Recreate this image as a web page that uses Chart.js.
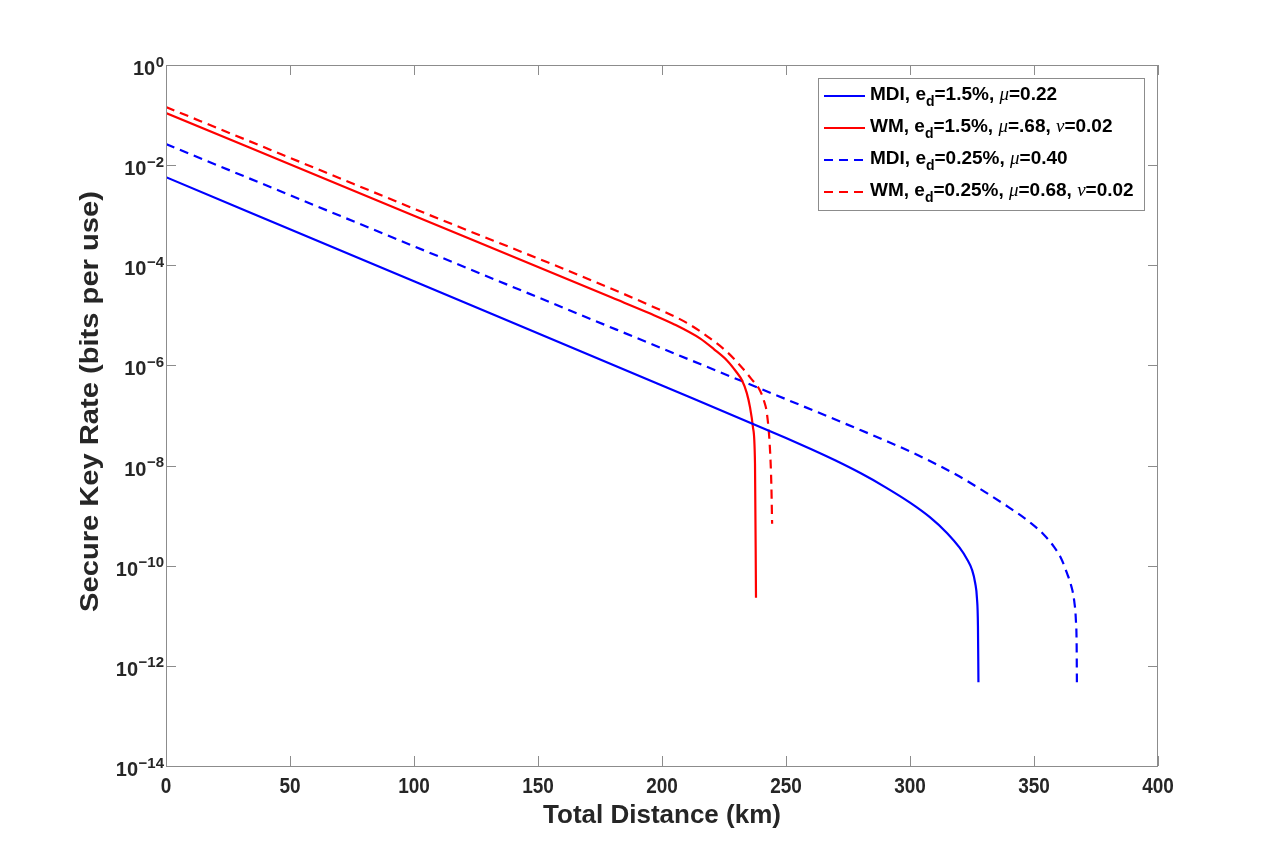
<!DOCTYPE html>
<html><head><meta charset="utf-8">
<script src="https://cdn.jsdelivr.net/npm/chart.js@4.4.1/dist/chart.umd.min.js"></script>
<style>html,body{margin:0;padding:0;background:#fff}</style>
</head><body>
<canvas id="c" width="1280" height="861"></canvas>
<script>
// ---- data ----
const xTicks = [0, 50, 100, 150, 200, 250, 300, 350, 400];
const yTickExponents = [0, -2, -4, -6, -8, -10, -12, -14];
const xTitle = 'Total Distance (km)';
const yTitle = 'Secure Key Rate (bits per use)';
const seriesLabels = [
  'MDI, e_d=1.5%, μ=0.22',
  'WM, e_d=1.5%, μ=.68, ν=0.02',
  'MDI, e_d=0.25%, μ=0.40',
  'WM, e_d=0.25%, μ=0.68, ν=0.02'
];
const mdi15Dist = [0, 100, 200, 250, 260, 270, 280, 290, 300, 308, 315, 320, 323, 325, 326.3, 327, 327.4, 327.6];
const mdi15Rate = [5.75e-3, 4.79e-5, 3.98e-7, 3.55e-8, 2.14e-8, 1.26e-8, 7.08e-9, 3.72e-9, 1.82e-9, 9.33e-10, 4.47e-10, 2.29e-10, 1.35e-10, 8.32e-11, 4.47e-11, 2.24e-11, 6.3e-12, 4.7e-13];
const wm15Dist = [0, 100, 180, 195, 205, 215.3, 221, 226.2, 230, 232.3, 234.2, 235.5, 236.7, 237.5, 237.9];
const wm15Rate = [0.11, 9.8e-4, 2.24e-5, 1.1e-5, 6.6e-6, 3.47e-6, 2.1e-6, 1.26e-6, 7.4e-7, 5.0e-7, 2.8e-7, 1.45e-7, 5.75e-8, 1.1e-8, 2.3e-11];
const mdi025Dist = [0, 100, 200, 280, 290, 300, 310, 320, 330, 340, 348, 354, 358, 361, 363.3, 365, 366.2, 366.9, 367.2, 367.3];
const mdi025Rate = [2.63e-2, 2.40e-4, 2.19e-6, 5.13e-8, 3.16e-8, 1.91e-8, 1.10e-8, 6.03e-9, 3.02e-9, 1.45e-9, 7.59e-10, 4.17e-10, 2.40e-10, 1.38e-10, 7.08e-11, 3.98e-11, 2.0e-11, 7.94e-12, 2.51e-12, 4.7e-13];
const wm025Dist = [0, 100, 195.2, 210, 219.4, 226, 231.5, 236, 239.5, 241.2, 242.3, 243.5, 244.1, 244.4];
const wm025Rate = [0.145, 1.35e-3, 1.58e-5, 7.08e-6, 3.47e-6, 1.9e-6, 1.0e-6, 5.4e-7, 3.16e-7, 1.9e-7, 1.1e-7, 2.29e-8, 4.0e-9, 6.9e-10];

// ---- styling ----
const BLUE = '#0000ff', RED = '#ff0000';
const AXIS = '#8c8c8c', TEXT = '#262626';
const FONT = '"Liberation Sans", Arial, Helvetica, sans-serif';
const GREEK = '"Liberation Serif", "DejaVu Serif", serif';

function pts(xs, ys) { return xs.map((x, i) => ({ x: x, y: ys[i] })); }

const datasets = [
  { label: seriesLabels[0], data: pts(mdi15Dist, mdi15Rate), borderColor: BLUE, borderWidth: 2.2, borderDash: [] },
  { label: seriesLabels[1], data: pts(wm15Dist, wm15Rate), borderColor: RED, borderWidth: 2.2, borderDash: [] },
  { label: seriesLabels[2], data: pts(mdi025Dist, mdi025Rate), borderColor: BLUE, borderWidth: 2.2, borderDash: [9, 6] },
  { label: seriesLabels[3], data: pts(wm025Dist, wm025Rate), borderColor: RED, borderWidth: 2.2, borderDash: [9, 6] }
].map(d => Object.assign(d, { pointRadius: 0, fill: false, cubicInterpolationMode: 'monotone', showLine: true }));

// draw a label with "_x" subscripts and italic greek letters
function richSegments(str) {
  const segs = [];
  for (let i = 0; i < str.length; i++) {
    const ch = str[i];
    if (ch === '_') { segs.push({ t: str[i + 1], kind: 'sub' }); i++; }
    else if (ch === 'μ' || ch === 'ν') segs.push({ t: ch, kind: 'greek' });
    else {
      const last = segs[segs.length - 1];
      if (last && last.kind === 'norm') last.t += ch; else segs.push({ t: ch, kind: 'norm' });
    }
  }
  return segs;
}
function segFont(kind, size) {
  if (kind === 'sub') return 'bold ' + Math.round(size * 0.72) + 'px ' + FONT;
  if (kind === 'greek') return 'italic ' + size + 'px ' + GREEK;
  return 'bold ' + size + 'px ' + FONT;
}
function richWidth(ctx, str, size) {
  let w = 0;
  for (const s of richSegments(str)) { ctx.font = segFont(s.kind, size); w += ctx.measureText(s.t).width; }
  return w;
}
function drawRich(ctx, str, x, y, size) {
  ctx.textAlign = 'left'; ctx.textBaseline = 'alphabetic';
  for (const s of richSegments(str)) {
    ctx.font = segFont(s.kind, size);
    const dy = s.kind === 'sub' ? size * 0.36 : 0;
    ctx.fillText(s.t, x, y + dy);
    x += ctx.measureText(s.t).width;
  }
}

const matlabAxes = {
  id: 'matlabAxes',
  afterDraw(chart) {
    const { ctx, chartArea: a } = chart;
    const xs = chart.scales.x, ys = chart.scales.y;
    ctx.save();
    // box
    ctx.strokeStyle = AXIS; ctx.lineWidth = 1;
    ctx.strokeRect(a.left + 0.5, a.top + 0.5, a.right - a.left - 1, a.bottom - a.top);
    const TL = 10;
    ctx.beginPath();
    for (const v of xTicks) {
      const px = Math.round(xs.getPixelForValue(v)) + 0.5;
      ctx.moveTo(px, a.bottom); ctx.lineTo(px, a.bottom - TL);
      ctx.moveTo(px, a.top); ctx.lineTo(px, a.top + TL);
    }
    for (const e of yTickExponents) {
      const py = Math.round(ys.getPixelForValue(Math.pow(10, e))) + 0.5;
      ctx.moveTo(a.left, py); ctx.lineTo(a.left + TL, py);
      ctx.moveTo(a.right, py); ctx.lineTo(a.right - TL, py);
    }
    ctx.stroke();
    // x tick labels (slightly tall glyphs like the reference)
    ctx.fillStyle = TEXT;
    ctx.font = 'bold 19px ' + FONT;
    ctx.textAlign = 'center'; ctx.textBaseline = 'alphabetic';
    for (const v of xTicks) {
      ctx.save();
      ctx.translate(xs.getPixelForValue(v), a.bottom + 27);
      ctx.scale(1, 1.12);
      ctx.fillText(String(v), 0, 0);
      ctx.restore();
    }
    // y tick labels 10^e
    for (const e of yTickExponents) {
      const py = ys.getPixelForValue(Math.pow(10, e));
      const sup = e < 0 ? '\u2212' + String(-e) : String(e);
      ctx.font = 'bold 15px ' + FONT;
      const sw = ctx.measureText(sup).width;
      const right = a.left - 2;
      ctx.textAlign = 'left';
      ctx.fillText(sup, right - sw, py + 1.5);
      ctx.font = 'bold 20px ' + FONT;
      ctx.textAlign = 'right';
      ctx.fillText('10', right - sw - 0.5, py + 10);
    }
    // axis titles
    ctx.font = 'bold 26px ' + FONT;
    ctx.textAlign = 'center';
    ctx.fillText(xTitle, (a.left + a.right) / 2, a.bottom + 57);
    ctx.save();
    ctx.translate(a.left - 68, (a.top + a.bottom) / 2 - 14);
    ctx.rotate(-Math.PI / 2);
    ctx.scale(1.12, 1);
    ctx.fillText(yTitle, 0, 0);
    ctx.restore();
    // legend
    const LS = 19;
    let maxW = 0;
    for (const l of seriesLabels) maxW = Math.max(maxW, richWidth(ctx, l, LS));
    const boxRight = a.right - 14, boxTop = a.top + 13;
    const boxLeft = Math.round(boxRight - 10 - maxW - 52);
    const rowH = 32, boxH = 132;
    ctx.fillStyle = '#fff';
    ctx.fillRect(boxLeft, boxTop, boxRight - boxLeft, boxH);
    ctx.strokeStyle = AXIS; ctx.lineWidth = 1;
    ctx.strokeRect(boxLeft + 0.5, boxTop + 0.5, boxRight - boxLeft, boxH);
    chart.data.datasets.forEach((ds, i) => {
      const ly = boxTop + 18 + i * rowH;
      ctx.strokeStyle = ds.borderColor; ctx.lineWidth = ds.borderWidth;
      ctx.setLineDash(ds.borderDash);
      ctx.beginPath(); ctx.moveTo(boxLeft + 6, ly); ctx.lineTo(boxLeft + 47, ly); ctx.stroke();
      ctx.setLineDash([]);
      ctx.fillStyle = '#000';
      drawRich(ctx, seriesLabels[i], boxLeft + 52, ly + 3.5, LS);
    });
    ctx.restore();
  }
};

new Chart(document.getElementById('c'), {
  type: 'line',
  data: { datasets: datasets },
  options: {
    responsive: false,
    animation: false,
    devicePixelRatio: 1,
    layout: { padding: { left: 166, right: 122, top: 65, bottom: 95 } },
    plugins: { legend: { display: false }, tooltip: { enabled: false } },
    scales: {
      x: { type: 'linear', min: 0, max: 400, display: false },
      y: { type: 'logarithmic', min: 1e-14, max: 1, display: false }
    }
  },
  plugins: [matlabAxes]
});
</script>
</body></html>
